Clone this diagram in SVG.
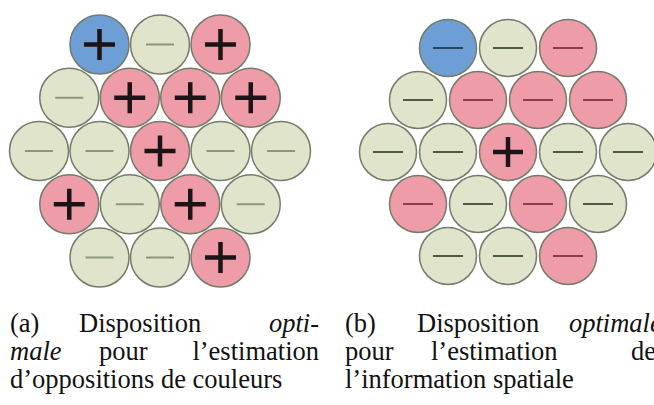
<svg xmlns="http://www.w3.org/2000/svg" width="654" height="405" viewBox="0 0 654 405">
<style>
.c{stroke:#737c6a;stroke-width:1.5}
.b{fill:#6d9fd6}.g{fill:#dfe4cb}.p{fill:#ee9ca8}
.pl{stroke:#1c1416;stroke-width:4.5;fill:none}
.ma{stroke:#8e9678;stroke-width:2;fill:none}
.mb{stroke:#4f5a45;stroke-width:2;fill:none}
.mbb{stroke:#2c4660;stroke-width:2;fill:none}
.mbp{stroke:#8b3c48;stroke-width:2;fill:none}
.t{font-family:"Liberation Serif","Times New Roman",serif;font-size:26.5px;fill:#111}
.i{font-style:italic}
</style>
<rect width="654" height="405" fill="#fff"/>
<g id="panel-a">
<g id="a1"><circle class="c b" cx="99.5" cy="44.5" r="29.5"/><path class="pl" d="M84 44.5h31M99.5 29v31"/></g>
<g id="a2"><circle class="c g" cx="160" cy="44.5" r="29.5"/><path class="ma" d="M146 44.5h28"/></g>
<g id="a3"><circle class="c p" cx="220.5" cy="44.5" r="29.5"/><path class="pl" d="M205 44.5h31M220.5 29v31"/></g>
<g id="a4"><circle class="c g" cx="69.25" cy="97.75" r="29.5"/><path class="ma" d="M55.25 97.75h28"/></g>
<g id="a5"><circle class="c p" cx="129.75" cy="97.75" r="29.5"/><path class="pl" d="M114.25 97.75h31M129.75 82.25v31"/></g>
<g id="a6"><circle class="c p" cx="190.25" cy="97.75" r="29.5"/><path class="pl" d="M174.75 97.75h31M190.25 82.25v31"/></g>
<g id="a7"><circle class="c p" cx="250.75" cy="97.75" r="29.5"/><path class="pl" d="M235.25 97.75h31M250.75 82.25v31"/></g>
<g id="a8"><circle class="c g" cx="39" cy="151" r="29.5"/><path class="ma" d="M25 151h28"/></g>
<g id="a9"><circle class="c g" cx="99.5" cy="151" r="29.5"/><path class="ma" d="M85.5 151h28"/></g>
<g id="a10"><circle class="c p" cx="160" cy="151" r="29.5"/><path class="pl" d="M144.5 151h31M160 135.5v31"/></g>
<g id="a11"><circle class="c g" cx="220.5" cy="151" r="29.5"/><path class="ma" d="M206.5 151h28"/></g>
<g id="a12"><circle class="c g" cx="281" cy="151" r="29.5"/><path class="ma" d="M267 151h28"/></g>
<g id="a13"><circle class="c p" cx="69.25" cy="204.25" r="29.5"/><path class="pl" d="M53.75 204.25h31M69.25 188.75v31"/></g>
<g id="a14"><circle class="c g" cx="129.75" cy="204.25" r="29.5"/><path class="ma" d="M115.75 204.25h28"/></g>
<g id="a15"><circle class="c p" cx="190.25" cy="204.25" r="29.5"/><path class="pl" d="M174.75 204.25h31M190.25 188.75v31"/></g>
<g id="a16"><circle class="c g" cx="250.75" cy="204.25" r="29.5"/><path class="ma" d="M236.75 204.25h28"/></g>
<g id="a17"><circle class="c g" cx="99.5" cy="257.5" r="29.5"/><path class="ma" d="M85.5 257.5h28"/></g>
<g id="a18"><circle class="c g" cx="160" cy="257.5" r="29.5"/><path class="ma" d="M146 257.5h28"/></g>
<g id="a19"><circle class="c p" cx="220.5" cy="257.5" r="29.5"/><path class="pl" d="M205 257.5h31M220.5 242v31"/></g>
</g>
<g id="panel-b">
<g id="b1"><circle class="c b" cx="448" cy="48" r="28.5"/><path class="mbb" d="M433 48h30"/></g>
<g id="b2"><circle class="c g" cx="508" cy="48" r="28.5"/><path class="mb" d="M493 48h30"/></g>
<g id="b3"><circle class="c p" cx="568" cy="48" r="28.5"/><path class="mbp" d="M553 48h30"/></g>
<g id="b4"><circle class="c g" cx="418" cy="100" r="28.5"/><path class="mb" d="M403 100h30"/></g>
<g id="b5"><circle class="c p" cx="478" cy="100" r="28.5"/><path class="mbp" d="M463 100h30"/></g>
<g id="b6"><circle class="c p" cx="538" cy="100" r="28.5"/><path class="mbp" d="M523 100h30"/></g>
<g id="b7"><circle class="c p" cx="598" cy="100" r="28.5"/><path class="mbp" d="M583 100h30"/></g>
<g id="b8"><circle class="c g" cx="388" cy="152" r="28.5"/><path class="mb" d="M373 152h30"/></g>
<g id="b9"><circle class="c g" cx="448" cy="152" r="28.5"/><path class="mb" d="M433 152h30"/></g>
<g id="b10"><circle class="c p" cx="508" cy="152" r="28.5"/><path class="pl" d="M493 152h30M508 137v30"/></g>
<g id="b11"><circle class="c g" cx="568" cy="152" r="28.5"/><path class="mb" d="M553 152h30"/></g>
<g id="b12"><circle class="c g" cx="628" cy="152" r="28.5"/><path class="mb" d="M613 152h30"/></g>
<g id="b13"><circle class="c p" cx="418" cy="204" r="28.5"/><path class="mbp" d="M403 204h30"/></g>
<g id="b14"><circle class="c g" cx="478" cy="204" r="28.5"/><path class="mb" d="M463 204h30"/></g>
<g id="b15"><circle class="c p" cx="538" cy="204" r="28.5"/><path class="mbp" d="M523 204h30"/></g>
<g id="b16"><circle class="c g" cx="598" cy="204" r="28.5"/><path class="mb" d="M583 204h30"/></g>
<g id="b17"><circle class="c g" cx="448" cy="256" r="28.5"/><path class="mb" d="M433 256h30"/></g>
<g id="b18"><circle class="c g" cx="508" cy="256" r="28.5"/><path class="mb" d="M493 256h30"/></g>
<g id="b19"><circle class="c p" cx="568" cy="256" r="28.5"/><path class="mbp" d="M553 256h30"/></g>
</g>
<g id="caption-a" class="t">
<text x="10" y="332">(a)</text>
<text x="79" y="332">Disposition</text>
<text x="319" y="332" text-anchor="end" class="i">opti-</text>
<text x="10" y="360" class="i">male</text>
<text x="99" y="360">pour</text>
<text x="319" y="360" text-anchor="end">l’estimation</text>
<text x="10" y="388">d’oppositions de couleurs</text>
</g>
<g id="caption-b" class="t">
<text x="345" y="332">(b)</text>
<text x="417" y="332">Disposition</text>
<text x="569" y="332" class="i">optimale</text>
<text x="345" y="360">pour</text>
<text x="431" y="360">l’estimation</text>
<text x="631" y="360">de</text>
<text x="345" y="388">l’information spatiale</text>
</g>
</svg>
